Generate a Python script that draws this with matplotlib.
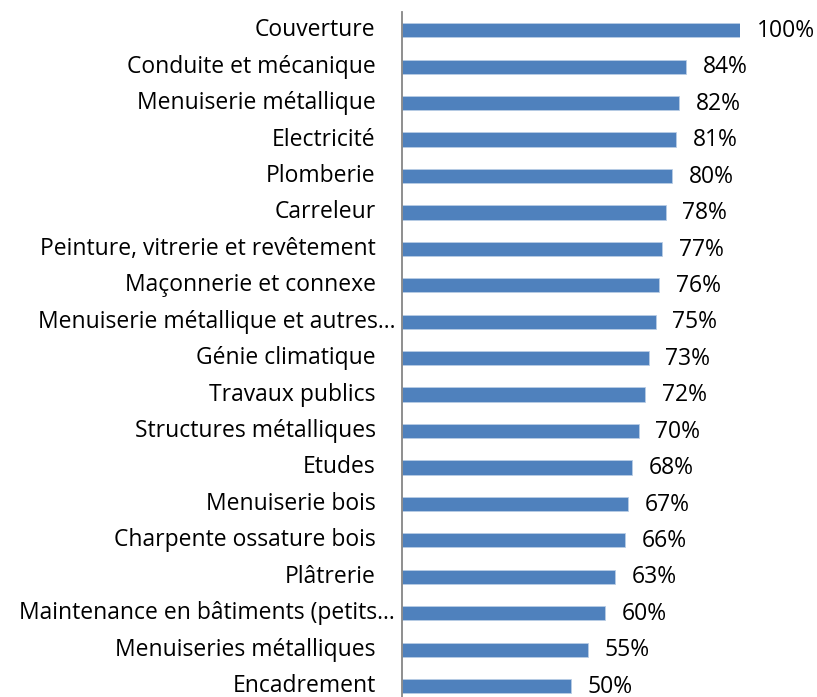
import numpy as np
import matplotlib
matplotlib.use('Agg')
import matplotlib.pyplot as plt
from matplotlib.transforms import offset_copy

plt.rcParams['font.family'] = ['Open Sans', 'DejaVu Sans']

categories = [
    'Couverture',
    'Conduite et mécanique',
    'Menuiserie métallique',
    'Electricité',
    'Plomberie',
    'Carreleur',
    'Peinture, vitrerie et revêtement',
    'Maçonnerie et connexe',
    'Menuiserie métallique et autres…',
    'Génie climatique',
    'Travaux publics',
    'Structures métalliques',
    'Etudes',
    'Menuiserie bois',
    'Charpente ossature bois',
    'Plâtrerie',
    'Maintenance en bâtiments (petits…',
    'Menuiseries métalliques',
    'Encadrement',
]
values = [100, 84, 82, 81, 80, 78, 77, 76, 75, 73, 72, 70, 68, 67, 66, 63, 60, 55, 50]

fig = plt.figure(figsize=(8.17, 6.97), dpi=100)
ax = fig.add_axes([402 / 817, 0, 338 / 817, 1 - 12 / 697])

y = np.arange(len(categories))
ax.barh(y, values, height=0.39, color='#4F81BD', edgecolor='#B9CDE5', linewidth=0.6)

# étiquettes de valeurs
for yi, v in zip(y, values):
    ax.annotate(f'{v}%', xy=(v, yi), xytext=(12, -0.5), textcoords='offset points',
                va='center', ha='left', fontsize=16.5, color='#000000',
                annotation_clip=False)

# étiquettes de catégories (les libellés tronqués débordent un peu plus à droite)
for yi, cat in zip(y, categories):
    dx = -5 if cat.endswith('…') else -19
    tr = offset_copy(ax.transData, fig=fig, x=dx, y=0, units='points')
    ax.text(0, yi, cat, transform=tr, ha='right', va='center',
            fontsize=16.5, color='#000000', clip_on=False)

ax.set_xlim(0, 100)
ax.set_ylim(len(categories) - 1 + 0.3, -0.5)
ax.set_yticks([])
ax.set_xticks([])

for side in ['top', 'right', 'bottom']:
    ax.spines[side].set_visible(False)
ax.spines['left'].set_color('#868686')
ax.spines['left'].set_linewidth(1.3)

fig.savefig('out.png', dpi=100)
